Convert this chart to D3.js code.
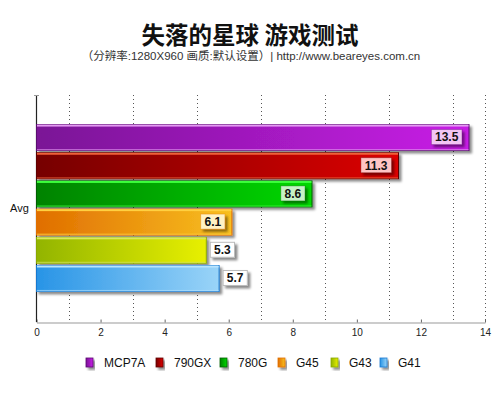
<!DOCTYPE html>
<meta charset="utf-8">
<style>
  body { margin: 0; background: #fff; }
  text { font-family: "Liberation Sans", Arial, sans-serif; fill: #111; }
  .title { font-family: "Noto Sans CJK SC", sans-serif; font-weight: bold; font-size: 23.5px; }
  .sub { font-family: "Liberation Sans", "Noto Sans CJK SC", sans-serif; font-size: 11.5px; fill: #333; }
  .grid line { stroke: #555; stroke-width: 1; stroke-dasharray: 1,3; }
  .xaxis path { stroke: #999; }
  .xaxis line { stroke: #666; }
  .xaxis text { font-family: "Liberation Sans", Arial, sans-serif; font-size: 10px; fill: #222; }
</style>
<body>
<svg id="chart"></svg>
<script src="https://cdn.jsdelivr.net/npm/d3@7/dist/d3.min.js"></script>
<script>
var width = 500, height = 396;

// data
var categories = ["Avg"];
var series = ["MCP7A", "790GX", "780G", "G45", "G43", "G41"];
var values = [13.5, 11.3, 8.6, 6.1, 5.3, 5.7];
var tickValues = [0, 2, 4, 6, 8, 10, 12, 14];
var gridValues = [1, 3, 5, 7, 9, 11, 13, 14];

// colours per series: dark, bright, top highlight, edge, label fill
var darkColors = ["#7a1496", "#760000", "#008200", "#e06e00", "#92b400", "#2894e6"];
var brightColors = ["#c81ee6", "#dc0000", "#00d800", "#f8c020", "#e8f000", "#9ad4f8"];
var topColors = ["#e49af2", "#f0603a", "#3cff3c", "#ffd040", "#d8e860", "#b8e4ff"];
var edgeColors = ["#5a0a70", "#600000", "#006000", "#e07000", "#8aa800", "#1878d0"];
var labelFills = ["#f2c6f4", "#ffc4c4", "#c6f2c6", "#fff2c4", "#ffffff", "#ffffff"];

var x = d3.scaleLinear().domain([0, 14]).range([36.5, 485]);
var y = d3.scaleBand().domain(series).range([124, 292]).paddingInner(0.08).paddingOuter(0.02);
var plotTop = 95, plotBottom = 322;

var svg = d3.select("#chart").attr("width", width).attr("height", height);
var defs = svg.append("defs");

var shadow = defs.append("filter").attr("id", "shadow")
  .attr("x", "-10%").attr("y", "-20%").attr("width", "130%").attr("height", "160%");
shadow.append("feDropShadow").attr("dx", 2.5).attr("dy", 2.5)
  .attr("stdDeviation", 1.3).attr("flood-color", "#000").attr("flood-opacity", 0.45);

series.forEach(function (s, i) {
  var g = defs.append("linearGradient").attr("id", "grad" + i)
    .attr("x1", "0%").attr("x2", "100%").attr("y1", "0%").attr("y2", "0%");
  g.append("stop").attr("offset", "0%").attr("stop-color", darkColors[i]);
  g.append("stop").attr("offset", "100%").attr("stop-color", brightColors[i]);
});

// title
svg.append("text").attr("class", "title").attr("x", 250).attr("y", 44)
  .attr("text-anchor", "middle").text("失落的星球 游戏测试");
svg.append("text").attr("class", "sub").attr("x", 251).attr("y", 60)
  .attr("text-anchor", "middle").text("（分辨率:1280X960 画质:默认设置）| http://www.beareyes.com.cn");

// grid lines
svg.append("g").attr("class", "grid")
  .selectAll("line").data(gridValues).enter().append("line")
  .attr("x1", function (d) { return Math.round(x(d)) + 0.5; })
  .attr("x2", function (d) { return Math.round(x(d)) + 0.5; })
  .attr("y1", plotTop).attr("y2", plotBottom);

// x axis
svg.append("g").attr("class", "xaxis")
  .attr("transform", "translate(0," + (plotBottom + 0.5) + ")")
  .call(d3.axisBottom(x).tickValues(tickValues).tickSizeInner(-3).tickSizeOuter(0).tickPadding(6))
  .select(".domain").attr("stroke", "#999");

// y axis line
svg.append("line").attr("x1", 36.5).attr("x2", 36.5).attr("y1", plotTop).attr("y2", plotBottom)
  .attr("stroke", "#222").attr("stroke-width", 1.2);
svg.append("line").attr("x1", 34).attr("x2", 39).attr("y1", plotTop + 0.5).attr("y2", plotTop + 0.5)
  .attr("stroke", "#999");

svg.append("text").attr("x", 10).attr("y", (124 + 292) / 2 + 4)
  .attr("font-size", "11px").text(categories[0]);

// bars
var bars = svg.append("g").selectAll("g").data(series).enter().append("g");

bars.append("rect")
  .attr("x", x(0))
  .attr("y", function (d) { return y(d); })
  .attr("width", function (d, i) { return x(values[i]) - x(0); })
  .attr("height", y.bandwidth())
  .attr("fill", function (d, i) { return "url(#grad" + i + ")"; })
  .attr("stroke", function (d, i) { return edgeColors[i]; })
  .attr("stroke-width", 1)
  .attr("filter", "url(#shadow)");

bars.append("rect")
  .attr("x", x(0) + 0.5)
  .attr("y", function (d) { return y(d); })
  .attr("width", function (d, i) { return x(values[i]) - x(0) - 1; })
  .attr("height", 2)
  .attr("fill", function (d, i) { return topColors[i]; });

bars.append("rect")
  .attr("x", x(0) + 0.5)
  .attr("y", function (d) { return y(d) + y.bandwidth() - 1.5; })
  .attr("width", function (d, i) { return x(values[i]) - x(0) - 1; })
  .attr("height", 1.5)
  .attr("fill", function (d, i) { return topColors[i]; })
  .attr("opacity", 0.6);

// value labels
bars.each(function (d, i) {
  var g = d3.select(this);
  var txt = values[i].toFixed(1);
  var w = txt.length * 6.4 + 5;
  var h = 15;
  var inside = values[i] >= 6;
  var bx = inside ? x(values[i]) - 7 - w : x(values[i]) + 4;
  var by = y(d) + y.bandwidth() / 2 - h / 2 - 0.5;
  g.append("rect")
    .attr("x", bx).attr("y", by).attr("width", w).attr("height", h)
    .attr("fill", labelFills[i])
    .attr("stroke", inside ? edgeColors[i] : "#bbb")
    .attr("stroke-opacity", inside ? 0.35 : 1)
    .attr("filter", "url(#shadow)");
  g.append("text")
    .attr("x", bx + w / 2).attr("y", by + h / 2 + 4.3)
    .attr("text-anchor", "middle")
    .attr("font-size", "12px").attr("font-weight", "bold")
    .text(txt);
});

// legend
var legendX = [86, 156, 220, 278, 331, 380];
var legend = svg.append("g").selectAll("g").data(series).enter().append("g")
  .attr("transform", function (d, i) { return "translate(" + legendX[i] + ",358)"; });

legend.append("rect")
  .attr("width", 7).attr("height", 9)
  .attr("fill", function (d, i) { return "url(#grad" + i + ")"; })
  .attr("stroke", function (d, i) { return edgeColors[i]; })
  .attr("stroke-width", 0.8)
  .attr("filter", "url(#shadow)");

legend.append("text")
  .attr("x", 18).attr("y", 8.5)
  .attr("font-size", "12px")
  .text(function (d) { return d; });
</script>
</body>
